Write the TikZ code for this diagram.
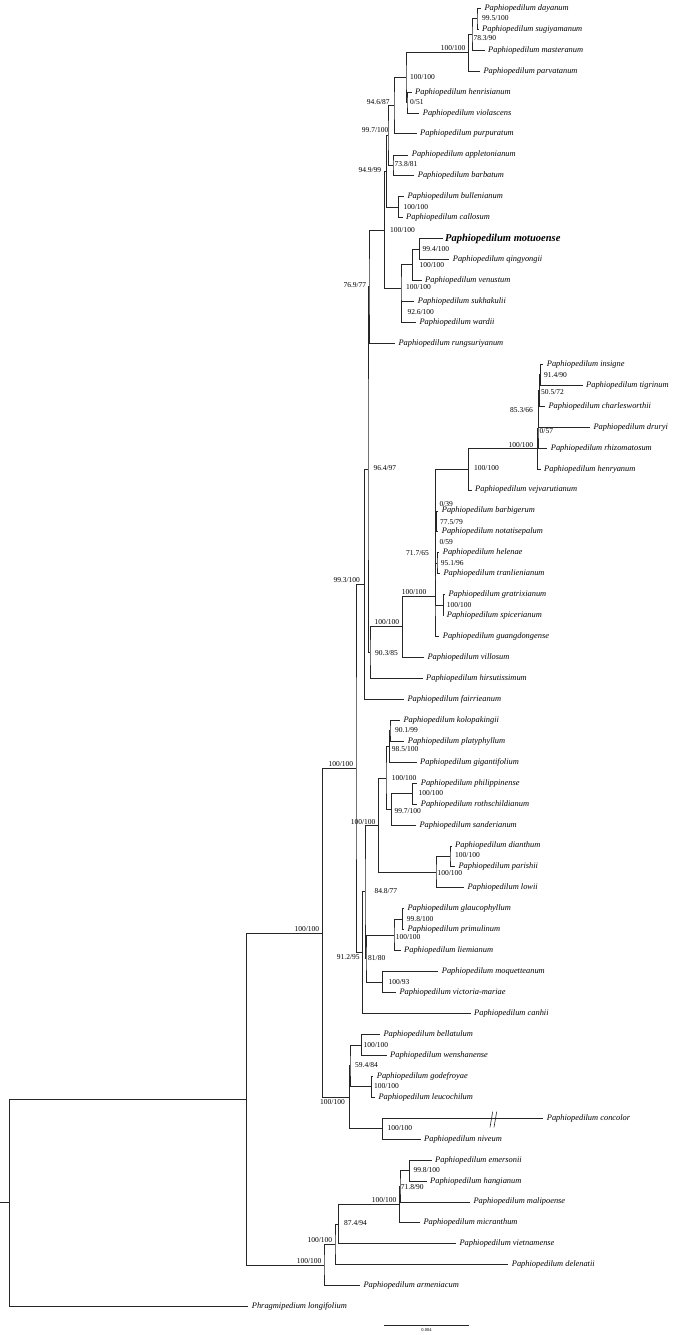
\documentclass[tikz,border=0pt]{standalone}
\usepackage{fontspec}
\setmainfont{Liberation Serif}
\begin{document}
\begin{tikzpicture}[x=1pt,y=-1pt,
    branch/.style={draw=black!85,line width=0.8pt},
    tip/.style={anchor=west,inner ysep=0pt,inner xsep=3.5pt,font=\fontsize{8.4}{10}\selectfont\itshape},
    focal/.style={tip,inner xsep=2.5pt,font=\fontsize{10.5}{12}\selectfont\bfseries\itshape},
    bs/.style={anchor=west,inner sep=0pt,font=\fontsize{7.5}{9}\selectfont},
    scaletext/.style={inner sep=0pt,font=\fontsize{4.5}{5}\selectfont}]
\useasboundingbox (0,0) rectangle (677,1335);

% taxa
\node[tip] (dayanum) at (480.8,8.3) {Paphiopedilum dayanum};
\node[tip] (sugiyamanum) at (478.5,29.2) {Paphiopedilum sugiyamanum};
\node[tip] (masteranum) at (484.5,50.2) {Paphiopedilum masteranum};
\node[tip] (parvatanum) at (479.8,71.1) {Paphiopedilum parvatanum};
\node[tip] (henrisianum) at (411.5,92.1) {Paphiopedilum henrisianum};
\node[tip] (violascens) at (419.2,113.0) {Paphiopedilum violascens};
\node[tip] (purpuratum) at (416.5,133.9) {Paphiopedilum purpuratum};
\node[tip] (appletonianum) at (408.2,154.9) {Paphiopedilum appletonianum};
\node[tip] (barbatum) at (414.2,175.8) {Paphiopedilum barbatum};
\node[tip] (bullenianum) at (403.8,196.8) {Paphiopedilum bullenianum};
\node[tip] (callosum) at (402.5,217.7) {Paphiopedilum callosum};
\node[focal] (motuoense) at (442.5,238.6) {Paphiopedilum motuoense};
\node[tip] (qingyongii) at (449.2,259.6) {Paphiopedilum qingyongii};
\node[tip] (venustum) at (421.5,280.5) {Paphiopedilum venustum};
\node[tip] (sukhakulii) at (414.2,301.5) {Paphiopedilum sukhakulii};
\node[tip] (wardii) at (415.8,322.4) {Paphiopedilum wardii};
\node[tip] (rungsuriyanum) at (394.8,343.3) {Paphiopedilum rungsuriyanum};
\node[tip] (insigne) at (543.2,364.3) {Paphiopedilum insigne};
\node[tip] (tigrinum) at (582.5,385.2) {Paphiopedilum tigrinum};
\node[tip] (charlesworthii) at (544.8,406.2) {Paphiopedilum charlesworthii};
\node[tip] (druryi) at (589.8,427.1) {Paphiopedilum druryi};
\node[tip] (rhizomatosum) at (547.2,448.0) {Paphiopedilum rhizomatosum};
\node[tip] (henryanum) at (540.5,469.0) {Paphiopedilum henryanum};
\node[tip] (vejvarutianum) at (471.5,489.9) {Paphiopedilum vejvarutianum};
\node[tip] (barbigerum) at (438.2,510.9) {Paphiopedilum barbigerum};
\node[tip] (notatisepalum) at (438.2,531.8) {Paphiopedilum notatisepalum};
\node[tip] (helenae) at (439.2,552.7) {Paphiopedilum helenae};
\node[tip] (tranlienianum) at (439.8,573.7) {Paphiopedilum tranlienianum};
\node[tip] (gratrixianum) at (444.8,594.6) {Paphiopedilum gratrixianum};
\node[tip] (spicerianum) at (443.2,615.6) {Paphiopedilum spicerianum};
\node[tip] (guangdongense) at (439.2,636.5) {Paphiopedilum guangdongense};
\node[tip] (villosum) at (423.8,657.4) {Paphiopedilum villosum};
\node[tip] (hirsutissimum) at (422.5,678.4) {Paphiopedilum hirsutissimum};
\node[tip] (fairrieanum) at (403.8,699.3) {Paphiopedilum fairrieanum};
\node[tip] (kolopakingii) at (399.8,720.3) {Paphiopedilum kolopakingii};
\node[tip] (platyphyllum) at (404.2,741.2) {Paphiopedilum platyphyllum};
\node[tip] (gigantifolium) at (416.5,762.1) {Paphiopedilum gigantifolium};
\node[tip] (philippinense) at (417.2,783.1) {Paphiopedilum philippinense};
\node[tip] (rothschildianum) at (417.2,804.0) {Paphiopedilum rothschildianum};
\node[tip] (sanderianum) at (415.8,825.0) {Paphiopedilum sanderianum};
\node[tip] (dianthum) at (451.5,845.9) {Paphiopedilum dianthum};
\node[tip] (parishii) at (454.8,866.8) {Paphiopedilum parishii};
\node[tip] (lowii) at (463.8,887.8) {Paphiopedilum lowii};
\node[tip] (glaucophyllum) at (403.8,908.7) {Paphiopedilum glaucophyllum};
\node[tip] (primulinum) at (403.8,929.7) {Paphiopedilum primulinum};
\node[tip] (liemianum) at (400.5,950.6) {Paphiopedilum liemianum};
\node[tip] (moquetteanum) at (438.2,971.5) {Paphiopedilum moquetteanum};
\node[tip] (victoria-mariae) at (395.8,992.5) {Paphiopedilum victoria-mariae};
\node[tip] (canhii) at (470.5,1013.4) {Paphiopedilum canhii};
\node[tip] (bellatulum) at (379.8,1034.4) {Paphiopedilum bellatulum};
\node[tip] (wenshanense) at (386.5,1055.3) {Paphiopedilum wenshanense};
\node[tip] (godefroyae) at (373.2,1076.2) {Paphiopedilum godefroyae};
\node[tip] (leucochilum) at (374.8,1097.2) {Paphiopedilum leucochilum};
\node[tip] (concolor) at (543.2,1118.1) {Paphiopedilum concolor};
\node[tip] (niveum) at (420.5,1139.1) {Paphiopedilum niveum};
\node[tip] (emersonii) at (431.5,1160.0) {Paphiopedilum emersonii};
\node[tip] (hangianum) at (426.5,1181.0) {Paphiopedilum hangianum};
\node[tip] (malipoense) at (469.8,1201.9) {Paphiopedilum malipoense};
\node[tip] (micranthum) at (419.8,1222.8) {Paphiopedilum micranthum};
\node[tip] (vietnamense) at (455.8,1243.8) {Paphiopedilum vietnamense};
\node[tip] (delenatii) at (508.2,1264.7) {Paphiopedilum delenatii};
\node[tip] (armeniacum) at (359.8,1285.6) {Paphiopedilum armeniacum};
\node[tip] (longifolium) at (248.2,1306.6) {Phragmipedium longifolium};

% internal nodes, Barbata
\coordinate (b1) at (477,18.8);
\coordinate (b2) at (472,34.5);
\coordinate (b3) at (468.3,52.8);
\coordinate (b4) at (407,102.6);
\coordinate (b5) at (406,77.7);
\coordinate (b6) at (394,105.8);
\coordinate (b7) at (393,165.4);
\coordinate (b8) at (388,135.6);
\coordinate (b9) at (398.3,207.3);
\coordinate (b10) at (386.7,171.4);
\coordinate (b11) at (419.5,249.1);
\coordinate (b12) at (412.7,264.8);
\coordinate (b13) at (401.7,312);
\coordinate (b14) at (401,288.4);
\coordinate (b15) at (384.3,229.9);
\coordinate (b16) at (369,286.6);
% Paphiopedilum s.str.
\coordinate (p1) at (540.7,374.8);
\coordinate (p2) at (539.3,390.5);
\coordinate (p3) at (538.5,408.8);
\coordinate (p4) at (538,428.4);
\coordinate (p5) at (537.3,448.7);
\coordinate (p6) at (468.3,469.3);
\coordinate (p7) at (436.3,521.4);
\coordinate (p8) at (437,563.2);
\coordinate (p9) at (435.7,542.3);
\coordinate (p10) at (435.3,505.8);
\coordinate (p11) at (443.3,605.1);
\coordinate (p12) at (435,555.5);
\coordinate (p13) at (435,596);
\coordinate (p14) at (402.7,626.7);
\coordinate (p15) at (370,652.6);
\coordinate (p16) at (368,469.6);
\coordinate (p17) at (364.3,584.5);
% Coryopedilum, Pardalopetalum, Cochlopetalum
\coordinate (c1) at (390,730.8);
\coordinate (c2) at (389.3,746.4);
\coordinate (c3) at (412.7,793.6);
\coordinate (c4) at (391.7,809.3);
\coordinate (c5) at (386,777.9);
\coordinate (c6) at (450,856.4);
\coordinate (c7) at (436,872.1);
\coordinate (c8) at (378.3,825);
\coordinate (c9) at (402.7,919.2);
\coordinate (c10) at (394,934.9);
\coordinate (c11) at (382.7,982);
\coordinate (c12) at (366,958.5);
\coordinate (c13) at (365,891.7);
\coordinate (c14) at (362.3,952.6);
\coordinate (c15) at (356,768.5);
% Brachypetalum
\coordinate (a1) at (361.7,1044.9);
\coordinate (a2) at (371.7,1086.7);
\coordinate (a3) at (350,1065.8);
\coordinate (a4) at (382.7,1128.6);
\coordinate (a5) at (349.3,1097.2);
\coordinate (a6) at (322.7,932.9);
% Parvisepalum
\coordinate (v1) at (409.3,1170.5);
\coordinate (v2) at (400,1186.2);
\coordinate (v3) at (399.3,1204.5);
\coordinate (v4) at (338.3,1224.2);
\coordinate (v5) at (335,1244.4);
\coordinate (v6) at (324,1265);
\coordinate (v7) at (246.7,1098.9);
\coordinate (root) at (9.3,1202.8);
\coordinate (stub) at (0,1202.8);

% branches
\draw[branch] (dayanum.west) -| (b1) |- (sugiyamanum.west);
\draw[branch] (b1) -| (b2) |- (masteranum.west);
\draw[branch] (b2) -| (b3) |- (parvatanum.west);
\draw[branch] (henrisianum.west) -| (b4) |- (violascens.west);
\draw[branch] (b3) -| (b5) |- (b4);
\draw[branch] (b5) -| (b6) |- (purpuratum.west);
\draw[branch] (appletonianum.west) -| (b7) |- (barbatum.west);
\draw[branch] (b6) -| (b8) |- (b7);
\draw[branch] (bullenianum.west) -| (b9) |- (callosum.west);
\draw[branch] (b8) -| (b10) |- (b9);
\draw[branch] (motuoense.west) -| (b11) |- (qingyongii.west);
\draw[branch] (b11) -| (b12) |- (venustum.west);
\draw[branch] (sukhakulii.west) -| (b13) |- (wardii.west);
\draw[branch] (b12) -| (b14) |- (b13);
\draw[branch] (b10) -| (b15) |- (b14);
\draw[branch] (b15) -| (b16) |- (rungsuriyanum.west);
\draw[branch] (insigne.west) -| (p1) |- (tigrinum.west);
\draw[branch] (p1) -| (p2) |- (charlesworthii.west);
\draw[branch] (p2) -| (p3) |- (druryi.west);
\draw[branch] (p3) -| (p4) |- (rhizomatosum.west);
\draw[branch] (p4) -| (p5) |- (henryanum.west);
\draw[branch] (p5) -| (p6) |- (vejvarutianum.west);
\draw[branch] (barbigerum.west) -| (p7) |- (notatisepalum.west);
\draw[branch] (helenae.west) -| (p8) |- (tranlienianum.west);
\draw[branch] (p7) -| (p9) |- (p8);
\draw[branch] (p6) -| (p10) |- (p9);
\draw[branch] (gratrixianum.west) -| (p11) |- (spicerianum.west);
\draw[branch] (p10) -| (p12) |- (p11);
\draw[branch] (p12) -| (p13) |- (guangdongense.west);
\draw[branch] (p13) -| (p14) |- (villosum.west);
\draw[branch] (p14) -| (p15) |- (hirsutissimum.west);
\draw[branch] (b16) -| (p16) |- (p15);
\draw[branch] (p16) -| (p17) |- (fairrieanum.west);
\draw[branch] (kolopakingii.west) -| (c1) |- (platyphyllum.west);
\draw[branch] (c1) -| (c2) |- (gigantifolium.west);
\draw[branch] (philippinense.west) -| (c3) |- (rothschildianum.west);
\draw[branch] (c3) -| (c4) |- (sanderianum.west);
\draw[branch] (c2) -| (c5) |- (c4);
\draw[branch] (dianthum.west) -| (c6) |- (parishii.west);
\draw[branch] (c6) -| (c7) |- (lowii.west);
\draw[branch] (c5) -| (c8) |- (c7);
\draw[branch] (glaucophyllum.west) -| (c9) |- (primulinum.west);
\draw[branch] (c9) -| (c10) |- (liemianum.west);
\draw[branch] (moquetteanum.west) -| (c11) |- (victoria-mariae.west);
\draw[branch] (c10) -| (c12) |- (c11);
\draw[branch] (c8) -| (c13) |- (c12);
\draw[branch] (c13) -| (c14) |- (canhii.west);
\draw[branch] (p17) -| (c15) |- (c14);
\draw[branch] (bellatulum.west) -| (a1) |- (wenshanense.west);
\draw[branch] (godefroyae.west) -| (a2) |- (leucochilum.west);
\draw[branch] (a1) -| (a3) |- (a2);
\draw[branch] (concolor.west) -| (a4) |- (niveum.west);
\draw[branch] (a3) -| (a5) |- (a4);
\draw[branch] (c15) -| (a6) |- (a5);
\draw[branch] (emersonii.west) -| (v1) |- (hangianum.west);
\draw[branch] (v1) -| (v2) |- (malipoense.west);
\draw[branch] (v2) -| (v3) |- (micranthum.west);
\draw[branch] (v3) -| (v4) |- (vietnamense.west);
\draw[branch] (v4) -| (v5) |- (delenatii.west);
\draw[branch] (v5) -| (v6) |- (armeniacum.west);
\draw[branch] (a6) -| (v7) |- (v6);
\draw[branch] (v7) -| (root) |- (longifolium.west);
\draw[branch] (stub) -- (root);

% break on the concolor branch
\draw[branch,line width=0.6pt] (490,1127.3) -- (492.7,1111.7);
\draw[branch,line width=0.6pt] (494,1127.3) -- (496.7,1111.7);

% support values
\node[bs] (sb1) at (482,18.3) {99.5/100};
\node[bs] (sb2) at (473.3,37.7) {78.3/90};
\node[bs] (sb3) at (440.7,48.3) {100/100};
\node[bs] (sb4) at (410,101.7) {0/51};
\node[bs] (sb5) at (410,77.3) {100/100};
\node[bs] (sb6) at (366.7,101.7) {94.6/87};
\node[bs] (sb7) at (394.5,164) {73.8/81};
\node[bs] (sb8) at (361.7,130) {99.7/100};
\node[bs] (sb9) at (403.3,207) {100/100};
\node[bs] (sb10) at (358.3,170) {94.9/99};
\node[bs] (sb11) at (422.5,249.5) {99.4/100};
\node[bs] (sb12) at (419.3,265) {100/100};
\node[bs] (sb13) at (407.3,311.7) {92.6/100};
\node[bs] (sb14) at (406,287.3) {100/100};
\node[bs] (sb15) at (390,230) {100/100};
\node[bs] (sb16) at (343.3,285) {76.9/77};
\node[bs] (sp1) at (544,375) {91.4/90};
\node[bs] (sp2) at (541,392.3) {50.5/72};
\node[bs] (sp3) at (510,410) {85.3/66};
\node[bs] (sp4) at (539.5,430.7) {0/57};
\node[bs] (sp5) at (508.3,445) {100/100};
\node[bs] (sp6) at (474,468.3) {100/100};
\node[bs] (sp7) at (440,521.7) {77.5/79};
\node[bs] (sp8) at (440.7,562.7) {95.1/96};
\node[bs] (sp9) at (439.3,542.3) {0/59};
\node[bs] (sp10) at (439.3,503.8) {0/39};
\node[bs] (sp11) at (446.7,605) {100/100};
\node[bs] (sp12) at (406,553.3) {71.7/65};
\node[bs] (sp13) at (401.7,591.7) {100/100};
\node[bs] (sp14) at (374.3,621.7) {100/100};
\node[bs] (sp15) at (375,652.7) {90.3/85};
\node[bs] (sp16) at (373.3,468.3) {96.4/97};
\node[bs] (sp17) at (333.3,580) {99.3/100};
\node[bs] (sc1) at (395,730) {90.1/99};
\node[bs] (sc2) at (391.7,749) {98.5/100};
\node[bs] (sc3) at (418.3,793.3) {100/100};
\node[bs] (sc4) at (394.3,811) {99.7/100};
\node[bs] (sc5) at (391.7,777.7) {100/100};
\node[bs] (sc6) at (455,855) {100/100};
\node[bs] (sc7) at (437.3,873.3) {100/100};
\node[bs] (sc8) at (350.7,821.7) {100/100};
\node[bs] (sc9) at (406.7,919) {99.8/100};
\node[bs] (sc10) at (395.7,937.3) {100/100};
\node[bs] (sc11) at (388.3,982.3) {100/93};
\node[bs] (sc12) at (368,957.7) {81/80};
\node[bs] (sc13) at (374.3,891) {84.8/77};
\node[bs] (sc14) at (336.7,956.7) {91.2/95};
\node[bs] (sc15) at (328.3,764.3) {100/100};
\node[bs] (sa1) at (363.3,1045) {100/100};
\node[bs] (sa2) at (374,1086) {100/100};
\node[bs] (sa3) at (355,1065.5) {59.4/84};
\node[bs] (sa4) at (387.3,1128.3) {100/100};
\node[bs] (sa5) at (320,1101.7) {100/100};
\node[bs] (sa6) at (294.3,928.7) {100/100};
\node[bs] (sv1) at (413.3,1170) {99.8/100};
\node[bs] (sv2) at (400.7,1186.7) {71.8/90};
\node[bs] (sv3) at (371.7,1200) {100/100};
\node[bs] (sv4) at (344,1223.3) {87.4/94};
\node[bs] (sv5) at (307.3,1240) {100/100};
\node[bs] (sv6) at (296.7,1260.7) {100/100};

% scale bar
\coordinate (sbl) at (384,1325);
\coordinate (sbr) at (469,1325);
\draw[branch] (sbl) -- (sbr);
\node[scaletext] (sbt) at (426.5,1330.5) {0.004};
\end{tikzpicture}
\end{document}
